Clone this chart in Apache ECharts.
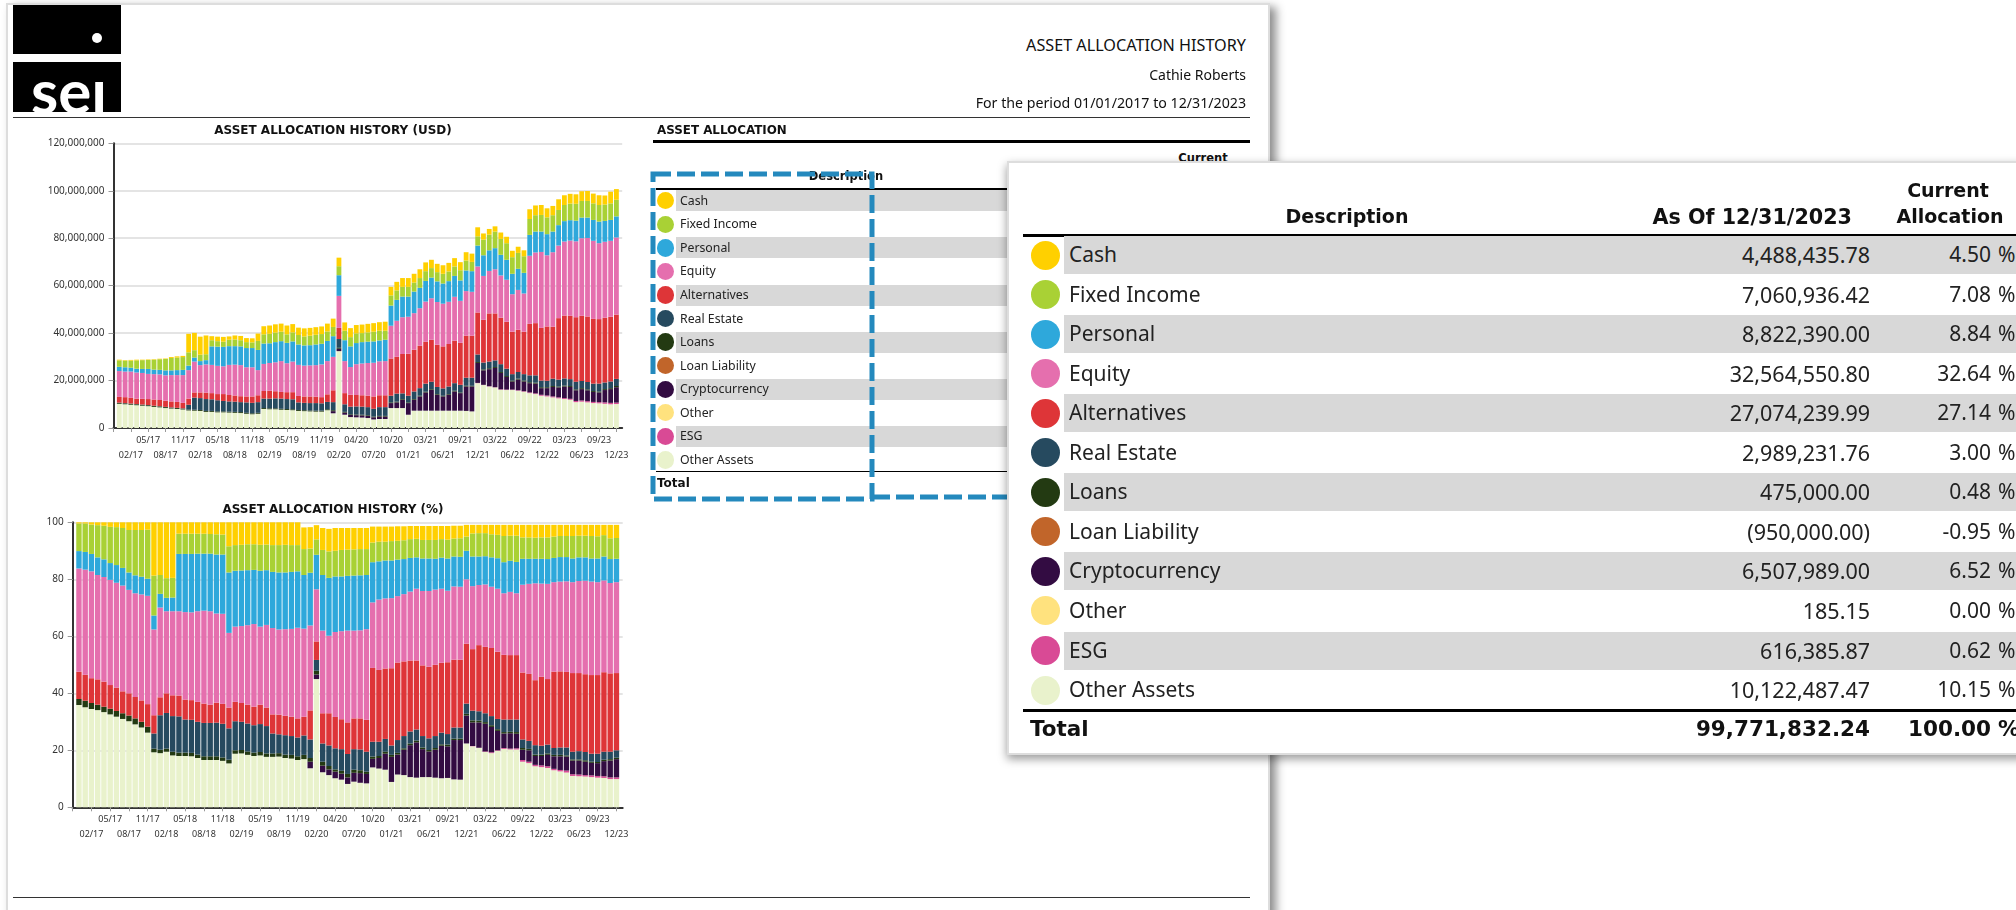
<!DOCTYPE html>
<html>
<head>
<meta charset="utf-8">
<title>Asset Allocation History</title>
<script src="https://cdn.jsdelivr.net/npm/echarts@6/dist/echarts.min.js"></script>
<style>
  html, body { margin: 0; padding: 0; background: #fff; overflow: hidden; }
  body { width: 2016px; height: 910px; position: relative; font-family: 'Noto Sans', sans-serif; color: #111; }
  .abs { position: absolute; white-space: nowrap; line-height: 1; }
  #page { position: absolute; left: 6px; top: 3px; width: 1264px; height: 930px; background: #fff; border: 2px solid #ddd; box-sizing: border-box; box-shadow: 6px 4px 9px rgba(0, 0, 0, 0.45); }
  #chart { position: absolute; left: 0; top: 0; width: 1000px; height: 910px; }
</style>
</head>
<body>
<div id="page"></div>
<div id="chart"></div>
<div id="front"></div>
<script>
// 分类轴: 第 0 格和最后一格留空, 刻度每 3 根柱子一个
const tickLabels = ['02/17', '05/17', '08/17', '11/17', '02/18', '05/18', '08/18', '11/18', '02/19', '05/19', '08/19', '11/19', '02/20', '04/20', '07/20', '10/20', '01/21', '03/21', '06/21', '09/21', '12/21', '03/22', '06/22', '09/22', '12/22', '03/23', '06/23', '09/23', '12/23']

const descriptions = ['Cash', 'Fixed Income', 'Personal', 'Equity', 'Alternatives', 'Real Estate', 'Loans', 'Loan Liability', 'Cryptocurrency', 'Other', 'ESG', 'Other Assets']
const dotColors = ['#ffd000', '#a9d135', '#2ea8db', '#e56fae', '#de3538', '#264a5f', '#233a12', '#c1652a', '#330c42', '#ffe27e', '#d94a95', '#e9f2cc']
const amounts = ['4,488,435.78', '7,060,936.42', '8,822,390.00', '32,564,550.80', '27,074,239.99', '2,989,231.76', '475,000.00', '(950,000.00)', '6,507,989.00', '185.15', '616,385.87', '10,122,487.47']
const allocations = ['4.50', '7.08', '8.84', '32.64', '27.14', '3.00', '0.48', '-0.95', '6.52', '0.00', '0.62', '10.15']

// 读图得到的每层柱顶位置, 单位: 百万美元
const usdOtherAssets = [10.2,10,9.8,9.6,9.4,9.2,8.9,8.7,8.4,8.2,8,7.8,7.4,7.3,7.2,6.8,6.8,6.6,6.6,6.5,6.4,6.3,6,5.8,6,8,7.9,7.9,7.7,7.6,7.5,7.2,7.1,7,6.9,6.9,7.5,6.2,32.4,5.6,4.6,4.5,4.4,4.2,3.6,3.8,3.8,8.4,8.4,8.4,5.6,7.3,7.3,7.3,7.3,7.3,7.3,7.3,7.3,7.3,7.2,7,18.9,18.1,17.5,17.1,16.1,16,16,15.7,15.3,14.7,14.3,13.6,13.3,12.9,12.5,12.2,11.9,10.9,11.1,10.8,10.5,10.4,10.2,10,10.1]
const usdEsg = [10.2,10,9.8,9.6,9.4,9.2,8.9,8.7,8.4,8.2,8,7.8,7.4,7.3,7.2,6.8,6.8,6.6,6.6,6.5,6.4,6.3,6,5.8,6,8,7.9,7.9,7.7,7.6,7.5,7.2,7.1,7,6.9,6.9,7.5,6.2,32.4,5.6,4.6,4.5,4.4,4.2,3.6,3.8,3.8,8.4,8.4,8.4,5.6,7.3,7.3,7.3,7.3,7.3,7.3,7.3,7.3,7.3,7.2,7,19,18.2,17.6,17.2,16.3,16.2,16.2,15.9,15.5,15,14.6,14,13.7,13.3,12.9,12.6,12.3,11.4,11.6,11.3,11,10.9,10.8,10.6,10.7]
const usdCrypto = [10.2,10,9.8,9.6,9.4,9.2,8.9,8.7,8.4,8.2,8,7.8,7.4,7.3,7.2,6.8,6.8,6.6,6.6,6.5,6.4,6.3,6,5.8,6,8,7.9,7.9,7.7,7.6,7.5,7.2,7.1,7,6.9,6.9,7.5,7.1,33.4,6.5,5.5,5.4,5.3,5.1,4.5,4.8,4.8,10.5,10.8,11.9,10.5,11.9,13.3,15,16.1,14,13.3,14,15.4,14.7,17.5,17.5,27.4,24.3,24.8,25.3,23.2,21.5,19.6,20.4,19.6,18.9,18.7,16.8,16.8,17.3,17.1,17.5,17.3,15.9,16.4,15.9,15.2,15,16,16.4,17.2]
const usdLoans = [10.6,10.4,10.2,10,9.8,9.6,9.3,9.1,8.8,8.6,8.4,8.2,7.8,7.7,7.6,7.2,7.2,7,7,6.9,6.8,6.7,6.4,6.2,6.4,8.4,8.3,8.3,8.1,8,7.9,7.6,7.5,7.4,7.3,7.3,7.9,7.5,33.8,6.8,5.8,5.7,5.6,5.4,4.8,5.1,5.1,10.8,11.1,12.2,10.8,12.2,13.6,15.3,16.4,14.3,13.6,14.3,15.7,15,17.8,17.8,27.8,24.7,25.2,25.7,23.6,21.9,20,20.8,20,19.3,19.1,17.2,17.2,17.7,17.5,17.9,17.7,16.3,16.8,16.3,15.6,15.4,16.4,16.8,17.7]
const usdRealEstate = [10.7,10.5,10.3,10.1,9.9,9.7,9.4,9.2,8.9,8.7,8.5,8.3,9.8,12.8,12.6,12.2,12.1,11.7,11.4,11.2,11.1,10.9,10.8,10.6,10.9,12.4,12.4,12.5,12.4,12.2,12.1,10.8,10.6,10.5,10.5,10.4,11,10.9,37.5,10,9,9.1,9,8.8,8.1,8.8,8.8,13.6,14.5,14.6,13.6,15.4,16.8,18.7,19.5,17.3,16.7,17.5,18.9,18.2,21.2,21.2,31,27.6,28,28.5,26.9,25,22.7,23.6,22.7,22.2,22.2,20,19.9,20.8,20.4,20.9,20.6,19.5,19.8,19.4,18.7,18.7,19.2,19.6,20.7]
const usdAlternatives = [13.1,13,12.7,12.4,12.3,12.2,12,11.8,11.5,11.2,11,10.6,12.4,15,15,14.9,14.7,14.3,14.3,13.9,13.7,13.4,13.3,13.3,13.8,15.6,15.7,15.5,15.2,15.1,15.1,13.5,13.3,13.3,13.2,13,14.2,15.9,42.2,14.7,14,13.9,13.8,13.6,13.3,13.8,13.8,29.3,30,31.2,31.3,33,34.7,36.4,37.2,35.1,34.4,35.4,36.8,35.9,38.9,38.9,48.7,45.6,48.3,48.3,46.5,44.8,40.6,41.4,40.6,43.9,44.2,42.2,42.8,42.7,46.3,47.4,47.3,46.7,47.3,47,46,45.9,46.5,46.9,47.8]
const usdEquity = [24,23.8,23.8,23.4,23.2,22.8,22.7,22.6,22.2,22.3,22.3,22.3,24.4,28,26.5,26.8,26.6,26.2,26,26.6,26.7,26.5,25.6,25.6,24.4,27,27.4,27.7,28.2,27.3,28,26.6,26.3,26.4,26.5,26.8,28.2,30,55.7,28.2,25.7,26.9,27.2,27.4,27.5,28.1,28.2,43.1,45.2,46.7,46.9,48.4,50.5,53.3,54.7,53.1,52.4,53.2,55.3,53.6,57.7,57.4,68.1,64.1,66.2,66.9,64.3,62.5,56.4,58.2,56.7,72.6,74,74.2,72.8,74.1,76.9,78.6,79,78.7,80,80.1,78.9,77.9,78.5,78.9,80.3]
const usdPersonal = [25.8,25.6,25.4,25,24.9,24.9,24.6,24.5,24.3,24.3,24.4,24.5,26.3,29.7,28.2,28.6,34.4,34.3,34.2,34.5,34.5,34.4,33.7,33.7,32.9,35.6,35.7,36.2,36.6,35.9,36.5,35.2,34.8,34.9,35.2,35.5,36.7,38.7,64.4,37,34.4,35.8,36.2,36.4,36.5,36.9,37.2,51.6,54,55.4,55.4,57.5,59.1,62,63.4,61.8,60.9,61.9,64.1,62.2,66.4,66.1,76.9,72.8,74.9,75.8,73,70.9,65,67.1,65.4,81.4,82.8,82.8,81.7,82.8,85.5,87.2,87.6,87.4,88.7,88.7,87.7,87,87.3,87.7,89.2]
const usdFixedIncome = [28.5,28.4,28.4,28.5,28.6,28.7,28.8,29,29.1,29.5,29.7,29.9,31.9,32.8,30.9,31.1,37,36.6,36.4,37.2,37.3,37,36.2,36.1,36.7,39.5,39.7,40.2,40.6,39.5,40.3,39.2,38.6,38.9,39.3,39.6,40.7,42.6,68.2,41,38.3,39.9,40,40.3,40.6,41,41,55.9,58,59.5,59.5,61.3,63.2,66.1,67.4,65.7,65,66,68.1,66.5,70.6,70,80.8,79.4,81.5,82.8,79.7,77.9,72,73.8,72.4,88.1,89.7,89.8,88.8,89.7,91.9,94,94.6,94.5,95.7,95.7,94.7,94,94.2,94.7,96.2]
const usdCash = [28.8,28.6,28.7,28.8,28.8,28.9,29,29.2,29.3,29.9,30.2,30.4,39.7,40.1,38.5,39,38.7,38.5,38.4,38.6,39,38.8,37.9,37.8,39.8,42.9,43.2,43.7,44,43.2,43.8,42.3,42,42.2,42.5,42.8,44,46.1,71.8,44.5,42.1,43.4,43.6,43.9,44.2,44.6,44.8,59.5,61.6,63.2,63.2,65,66.9,69.8,70.9,69.2,68.6,69.6,71.6,69.9,74.1,73.5,84.6,82,83.9,85,82.4,80.6,74.7,76.4,74.9,92.2,93.8,94,92.6,93.6,96.4,98.1,98.7,98.5,99.8,99.9,98.8,98.1,98,99.6,100.7]

// 读图得到的每层柱顶位置, 单位: %
const pctOtherAssets = [35.9,35.1,34.5,34.1,33.4,32.6,31.8,31,30.2,29.1,28,26.2,19.3,19,19.5,18.2,18,18,17.9,17.3,16.6,16.6,16.6,16.3,15.4,18.8,18.9,18.4,18,18.2,17.7,17.7,17.8,17.3,17.1,16.6,16.9,13.7,45,12.3,11.3,10.2,9.7,8.2,9,8.6,8.4,14,13.6,13.2,8.9,11.5,11.3,10.6,10.4,10.6,10.6,10.4,10.2,10.3,9.8,9.7,22.4,21.4,20.8,19.4,19,19.8,20.5,20.3,20.3,16,15.5,14.4,14.1,13.8,13,12.6,12.2,11,10.9,10.8,10.6,10.4,10.3,9.9,9.9]
const pctEsg = [35.9,35.1,34.5,34.1,33.4,32.6,31.8,31,30.2,29.1,28,26.2,19.3,19,19.5,18.2,18,18,17.9,17.3,16.6,16.6,16.6,16.3,15.4,18.8,18.9,18.4,18,18.2,17.7,17.7,17.8,17.3,17.1,16.6,16.9,13.7,45,12.3,11.3,10.2,9.7,8.2,9,8.6,8.4,14,13.6,13.2,8.9,11.5,11.3,10.6,10.4,10.6,10.6,10.4,10.2,10.3,9.8,9.7,22.4,21.5,20.9,19.6,19.3,20,20.8,20.6,20.7,16.6,16,14.9,14.7,14.4,13.5,13.1,12.9,11.6,11.5,11.3,11.2,11,10.9,10.5,10.5]
const pctCrypto = [35.9,35.1,34.5,34.1,33.4,32.6,31.8,31,30.2,29.1,28,26.2,19.3,19,19.5,18.2,18,18,17.9,17.3,16.6,16.6,16.6,16.3,15.4,18.8,18.9,18.4,18,18.2,17.7,17.7,17.8,17.3,17.1,16.6,16.9,16,46.6,14.6,13.3,12.5,11.8,10.5,12.1,12,11.7,17,17.3,18.8,17.7,18.5,20.2,21.8,22.8,20.4,19.6,20.2,21.6,21.4,23.6,23.6,32.2,29.8,29.8,29.3,28.2,26.8,25.9,26,25.8,20.2,20,18,18,18.4,17.9,17.9,17.8,16.4,16.4,16,15.6,15.5,16.2,16.4,16.9]
const pctLoans = [38,37.4,36.6,36,35.3,34.6,33.8,33,32.2,31.2,30,28.3,20.6,20.2,20.6,19.5,19.2,19.2,19.1,18.5,17.9,17.9,17.9,17.5,16.7,20,20.1,19.6,19.2,19.4,18.9,18.9,19,18.5,18.4,17.9,18.4,17.3,47.9,16,14.5,13.3,12.8,11.7,13.2,13,12.5,17.8,18,19.5,18.4,19.1,20.7,22.4,23.4,21,20.1,20.8,22.1,22,24.1,24.1,32.8,30.5,30.4,29.9,28.8,27.4,26.4,26.5,26.4,20.8,20.5,18.5,18.5,18.9,18.4,18.4,18.2,16.8,16.8,16.5,16,15.9,16.7,16.9,17.4]
const pctRealEstate = [38,37.4,36.6,36,35.3,34.6,33.8,33,32.2,31.2,30,28.3,25.9,32.3,33.1,32,31.9,30.8,30.7,30,29.6,29.6,29.7,29.3,27.7,30.2,30,29.4,28.8,29.2,28.5,25.9,25.6,25.3,25,24.5,25.2,23.8,51.7,22.4,21.7,20.7,20.4,18.7,20.4,20.3,19.5,23,23,24,21.7,23.6,25,26.6,27.3,25,24.2,25,26.2,25.7,28,28,36.4,33.9,33.7,33,32,31,30.8,30.8,30.8,23.8,23.3,21.8,21.6,22,20.8,21,21,19.5,19.7,19.4,18.8,18.8,19.5,19.5,20]
const pctAlternatives = [47.6,46.5,45.3,44.9,44.1,42.9,42,40.7,40,38.7,37.5,36.2,32.3,38.6,40,39.3,39.2,37.8,37.6,37,36.4,36,36.7,36.3,35,37,36.6,36,35.3,36,35,32.6,32.5,32.1,31.8,31.2,31.8,34,58.2,33,33,31.7,30.9,29.8,31.2,31.2,30.7,48.9,48.2,48.7,48.8,50.8,51.2,51.5,51.5,49.8,49.3,50,50.7,50.9,51.8,51.8,57.4,55.5,56.9,56.3,55.9,54.6,53.5,53.4,53.4,47.3,46.8,44.6,45.8,45,47.6,47.7,47.5,47.1,47.1,46.7,46.4,46.4,47.4,47,47.1]
const pctEquity = [83.8,83.4,82.8,81.5,80.8,79.8,78.8,77.8,76.3,75.1,74.7,74.2,62.4,70.1,68.8,68.8,68.8,68.5,68.4,68.8,69,68.8,68,67.9,61.2,63.4,63.6,63.9,64.3,63.4,64,62.9,62.4,62.5,62.6,63,62.7,63.8,76.5,62,60.2,61.5,61.8,62,62,62.1,62.5,71.9,72.9,73.3,73.4,74.1,74.8,75.7,76.7,75.9,75.9,76.4,76.7,76,77.5,77.4,80,77.6,78,78.2,77.4,76.7,75.1,75.6,75.1,78.1,78.4,78.6,78.5,78.4,79,79.2,79.3,79,79.4,79.5,79.2,79,79.6,78.7,79]
const pctPersonal = [89.9,89.6,88.9,87.7,87,85.7,85,84,82.4,81.4,80.9,80.2,67.3,74.9,73.5,73.6,88.9,88.9,88.9,89,89,89,88.7,88.7,82.4,83,83.1,83.2,83.3,83,83.2,82.6,82.4,82.4,82.6,82.8,81.5,82.3,88.6,81.5,80.5,81,81,81.2,81.3,81.4,81.5,86,86.3,86.6,86.6,86.9,87.1,87.5,87.7,87.3,87.3,87.2,87.6,87.3,88,87.9,90,88,88,88.1,87.7,87.4,86,86.5,86.1,87.2,87.2,87.2,87.2,87.1,87.5,87.8,87.8,87.3,87.7,87.7,87.3,87.3,88,87.1,87.2]
const pctFixedIncome = [99.6,99.6,99.2,99,98.8,98.4,98.3,98,97.3,97.3,97.3,97.4,81.3,81.5,80.4,80.5,96,96,96,96,96,95.9,95.8,95.7,91.6,92,92.1,92.3,92.3,92.1,92.2,92,92,92.1,92,92,90.6,90.8,94,90.3,89.8,90,90.3,90.4,90.5,90.6,90.6,92.9,93.2,93.2,93.4,93.5,93.7,94.1,94.2,93.8,93.8,93.8,94.1,93.9,94.3,94.4,95,96.1,96.2,96.2,95.8,95.6,95.2,95.3,95.3,94.7,94.7,94.6,94.7,94.7,95,95.2,95.2,95.2,95.3,95.3,95.2,95.1,95.5,94.4,94.5]
const pctCash = [100,100,100,100,100,100,100,100,100,100,100,100,100,100,100,100,100,100,100,100,100,100,100,100,100,100,100,100,100,100,100,100,100,100,100,100,98.2,98.3,99,98,97.7,98,98,98,98,98,98,98.5,98.5,98.5,98.5,98.6,98.6,98.7,98.7,98.7,98.7,98.7,98.7,98.7,98.8,98.8,99.1,99.1,99.1,99.1,99.1,99.1,99.1,99.1,99.1,99.1,99.1,99.1,99.1,99.1,99.1,99.1,99.1,99.1,99.1,99.1,99.1,99.1,99.1,99.1,99.1]

const usdLayers = [
  ['Other Assets', usdOtherAssets], ['ESG', usdEsg], ['Cryptocurrency', usdCrypto], ['Loans', usdLoans], ['Real Estate', usdRealEstate],
  ['Alternatives', usdAlternatives], ['Equity', usdEquity], ['Personal', usdPersonal], ['Fixed Income', usdFixedIncome], ['Cash', usdCash]
]
const pctLayers = [
  ['Other Assets', pctOtherAssets], ['ESG', pctEsg], ['Cryptocurrency', pctCrypto], ['Loans', pctLoans], ['Real Estate', pctRealEstate],
  ['Alternatives', pctAlternatives], ['Equity', pctEquity], ['Personal', pctPersonal], ['Fixed Income', pctFixedIncome], ['Cash', pctCash]
]

const categories = ['']
for (let i = 1; i <= 88; i++) {
  categories.push(i % 3 === 0 ? tickLabels[i / 3 - 1] : '')
}

function buildSeries(layers, axisIndex, barWidth) {
  return layers.map(([name, tops], layerIndex) => {
    const below = layerIndex ? layers[layerIndex - 1][1] : null
    const bands = tops.map((top, i) => Math.max(0, +(top - (below ? below[i] : 0)).toFixed(2)))
    return {
      name,
      type: 'bar',
      stack: 'layers' + axisIndex,
      xAxisIndex: axisIndex,
      yAxisIndex: axisIndex,
      barWidth,
      itemStyle: { color: dotColors[descriptions.indexOf(name)] },
      data: [null, ...bands, null]
    }
  })
}

const xLabelStyle = { fontFamily: 'Noto Sans', fontSize: 9, color: '#333' }

// 上排标签放主轴, 下排标签单独一根不画线的轴, 否则两排的包围盒会互相挤掉
function buildXAxis(gridIndex) {
  return {
    type: 'category',
    gridIndex,
    position: 'bottom',
    boundaryGap: false,
    data: categories,
    axisLine: { lineStyle: { color: '#333', width: 2 } },
    axisTick: { length: 4, interval: (i) => i % 3 === 0, lineStyle: { color: '#999' } },
    axisLabel: { ...xLabelStyle, interval: (i) => i % 6 === 0 && i > 0, margin: 8 }
  }
}

function buildLowerXAxis(gridIndex) {
  return {
    type: 'category',
    gridIndex,
    position: 'bottom',
    boundaryGap: false,
    data: categories,
    axisLine: { show: false },
    axisTick: { show: false },
    axisLabel: { ...xLabelStyle, interval: (i) => i % 6 === 3, margin: 22.5 }
  }
}

function buildYAxis(gridIndex, max, formatter) {
  return {
    type: 'value',
    gridIndex,
    min: 0,
    max,
    interval: 20,
    axisLine: { show: true, lineStyle: { color: '#333', width: 2 } },
    axisTick: { show: true, length: 5, lineStyle: { color: '#999' } },
    splitLine: { lineStyle: { color: '#e4e4e4', width: 2 } },
    axisLabel: { formatter, fontFamily: 'Noto Sans', fontSize: 10, margin: 9, color: '#333' }
  }
}

const chart = echarts.init(document.getElementById('chart'))
chart.setOption({
  animation: false,
  title: [
    { text: 'ASSET ALLOCATION HISTORY (USD)', left: 328, top: 120, textAlign: 'center', textStyle: { fontFamily: 'DejaVu Sans', fontWeight: 'bold', fontSize: 12, color: '#111' } },
    { text: 'ASSET ALLOCATION HISTORY (%)', left: 328, top: 499, textAlign: 'center', textStyle: { fontFamily: 'DejaVu Sans', fontWeight: 'bold', fontSize: 12, color: '#111' } }
  ],
  grid: [
    { left: 113.5, top: 143.3, width: 508.7, height: 284.7 },
    { left: 72.7, top: 522.3, width: 550, height: 285 }
  ],
  xAxis: [buildXAxis(0), buildXAxis(1), buildLowerXAxis(0), buildLowerXAxis(1)],
  yAxis: [
    buildYAxis(0, 120, (v) => (v * 1000000).toLocaleString('en-US')),
    buildYAxis(1, 100, (v) => String(v))
  ],
  series: [...buildSeries(usdLayers, 0, 4.8), ...buildSeries(pctLayers, 1, 5.4)]
})

// 报表外框、小表格和放大卡片都是普通 HTML
const front = document.getElementById('front')

function addText(parent, text, style) {
  const el = document.createElement('div')
  el.className = 'abs'
  el.textContent = text
  Object.assign(el.style, style)
  parent.appendChild(el)
  return el
}

function addBox(parent, style) {
  const el = document.createElement('div')
  el.style.position = 'absolute'
  Object.assign(el.style, style)
  parent.appendChild(el)
  return el
}

// 顶部 logo 和标题
addBox(front, { left: '13px', top: '5px', width: '108px', height: '49px', background: '#000' })
addBox(front, { left: '92px', top: '33px', width: '10px', height: '10px', borderRadius: '50%', background: '#fff' })
addBox(front, { left: '13px', top: '62px', width: '108px', height: '49.5px', background: '#000' })
const logo = addBox(front, { left: '13px', top: '78px', width: '108px', height: '33.5px', overflow: 'hidden' })
addText(logo, 'sei', { left: '18px', top: '-19px', fontFamily: 'Lato', fontWeight: 'bold', fontSize: '62px', color: '#fff' })

addText(front, 'ASSET ALLOCATION HISTORY', { right: '770px', top: '37px', fontSize: '16.2px' })
addText(front, 'Cathie Roberts', { right: '770px', top: '67.5px', fontSize: '14px' })
addText(front, 'For the period 01/01/2017 to 12/31/2023', { right: '770px', top: '96px', fontSize: '14.2px' })
addBox(front, { left: '13px', top: '117px', width: '1237px', height: '1px', background: '#333' })
addBox(front, { left: '13px', top: '897px', width: '1237px', height: '1px', background: '#333' })

// 被卡片盖住的小表格
addText(front, 'ASSET ALLOCATION', { left: '657px', top: '125px', fontFamily: 'DejaVu Sans', fontWeight: 'bold', fontSize: '11.9px' })
addBox(front, { left: '653px', top: '139.5px', width: '597px', height: '3.5px', background: '#000' })
addText(front, 'Description', { left: '846px', top: '171px', transform: 'translateX(-50%)', fontFamily: 'DejaVu Sans', fontWeight: 'bold', fontSize: '11.5px' })
addText(front, 'Current', { left: '1203px', top: '153px', transform: 'translateX(-50%)', fontFamily: 'DejaVu Sans', fontWeight: 'bold', fontSize: '11.5px' })
addBox(front, { left: '656px', top: '188px', width: '352px', height: '1.5px', background: '#000' })
descriptions.forEach((name, i) => {
  const center = 200.8 + i * 23.55
  if (i % 2 === 0) {
    addBox(front, { left: '676px', top: center - 10.5 + 'px', width: '332px', height: '21px', background: '#d8d8d8' })
  }
  addBox(front, { left: '656.5px', top: center - 8.7 + 'px', width: '17.4px', height: '17.4px', borderRadius: '50%', background: dotColors[i] })
  addText(front, name, { left: '680px', top: center - 6 + 'px', fontSize: '12.3px', color: '#222' })
})
addBox(front, { left: '656px', top: '470.5px', width: '352px', height: '1.5px', background: '#000' })
addText(front, 'Total', { left: '657px', top: '477px', fontFamily: 'DejaVu Sans', fontWeight: 'bold', fontSize: '12px' })

// 蓝色虚线框
const svgNs = 'http://www.w3.org/2000/svg'
const dashSvg = document.createElementNS(svgNs, 'svg')
dashSvg.setAttribute('width', '2016')
dashSvg.setAttribute('height', '910')
dashSvg.style.position = 'absolute'
dashSvg.style.left = '0'
dashSvg.style.top = '0'
const dashPaths = ['M653 174 H872 V499 H653 Z', 'M872 497 H1008']
dashPaths.forEach((d) => {
  const path = document.createElementNS(svgNs, 'path')
  path.setAttribute('d', d)
  path.setAttribute('fill', 'none')
  path.setAttribute('stroke', '#2489bd')
  path.setAttribute('stroke-width', '5')
  path.setAttribute('stroke-dasharray', '18 6')
  dashSvg.appendChild(path)
})
front.appendChild(dashSvg)

// 放大卡片
addBox(front, {
  left: '1007px', top: '161px', width: '1100px', height: '594px', background: '#fff',
  border: '2px solid #ddd', boxSizing: 'border-box', boxShadow: '0 4px 9px rgba(0, 0, 0, 0.4)'
})
const headFont = { fontFamily: 'DejaVu Sans', fontWeight: 'bold', fontSize: '19px' }
addText(front, 'Description', { left: '1347px', top: '207px', transform: 'translateX(-50%)', ...headFont })
addText(front, 'As Of 12/31/2023', { right: '164px', top: '206.5px', ...headFont, fontSize: '20.7px' })
addText(front, 'Current', { left: '1948px', top: '181px', transform: 'translateX(-50%)', ...headFont })
addText(front, 'Allocation', { left: '1950px', top: '207px', transform: 'translateX(-50%)', ...headFont })
addBox(front, { left: '1023px', top: '233.5px', width: '993px', height: '3px', background: '#000' })
descriptions.forEach((name, i) => {
  const center = 255 + i * 39.55
  if (i % 2 === 0) {
    addBox(front, { left: '1064px', top: center - 19 + 'px', width: '952px', height: '38px', background: '#d8d8d8' })
  }
  addBox(front, { left: '1030.5px', top: center - 14.5 + 'px', width: '29px', height: '29px', borderRadius: '50%', background: dotColors[i] })
  addText(front, name, { left: '1069px', top: center - 11 + 'px', fontSize: '21px', color: '#222' })
  addText(front, amounts[i], { right: '146px', top: center - 11 + 'px', fontSize: '21.5px', color: '#222' })
  addText(front, allocations[i], { right: '25px', top: center - 11 + 'px', fontSize: '21px', color: '#222' })
  addText(front, '%', { left: '1998px', top: center - 11 + 'px', fontSize: '21px', color: '#222' })
})
addBox(front, { left: '1023px', top: '708.5px', width: '993px', height: '3px', background: '#000' })
const totalFont = { fontFamily: 'DejaVu Sans', fontWeight: 'bold', fontSize: '21.5px', top: '718px' }
addText(front, 'Total', { left: '1030px', ...totalFont })
addText(front, '99,771,832.24', { right: '146px', ...totalFont })
addText(front, '100.00', { right: '25px', ...totalFont })
addText(front, '%', { left: '1998px', ...totalFont })
</script>
</body>
</html>
